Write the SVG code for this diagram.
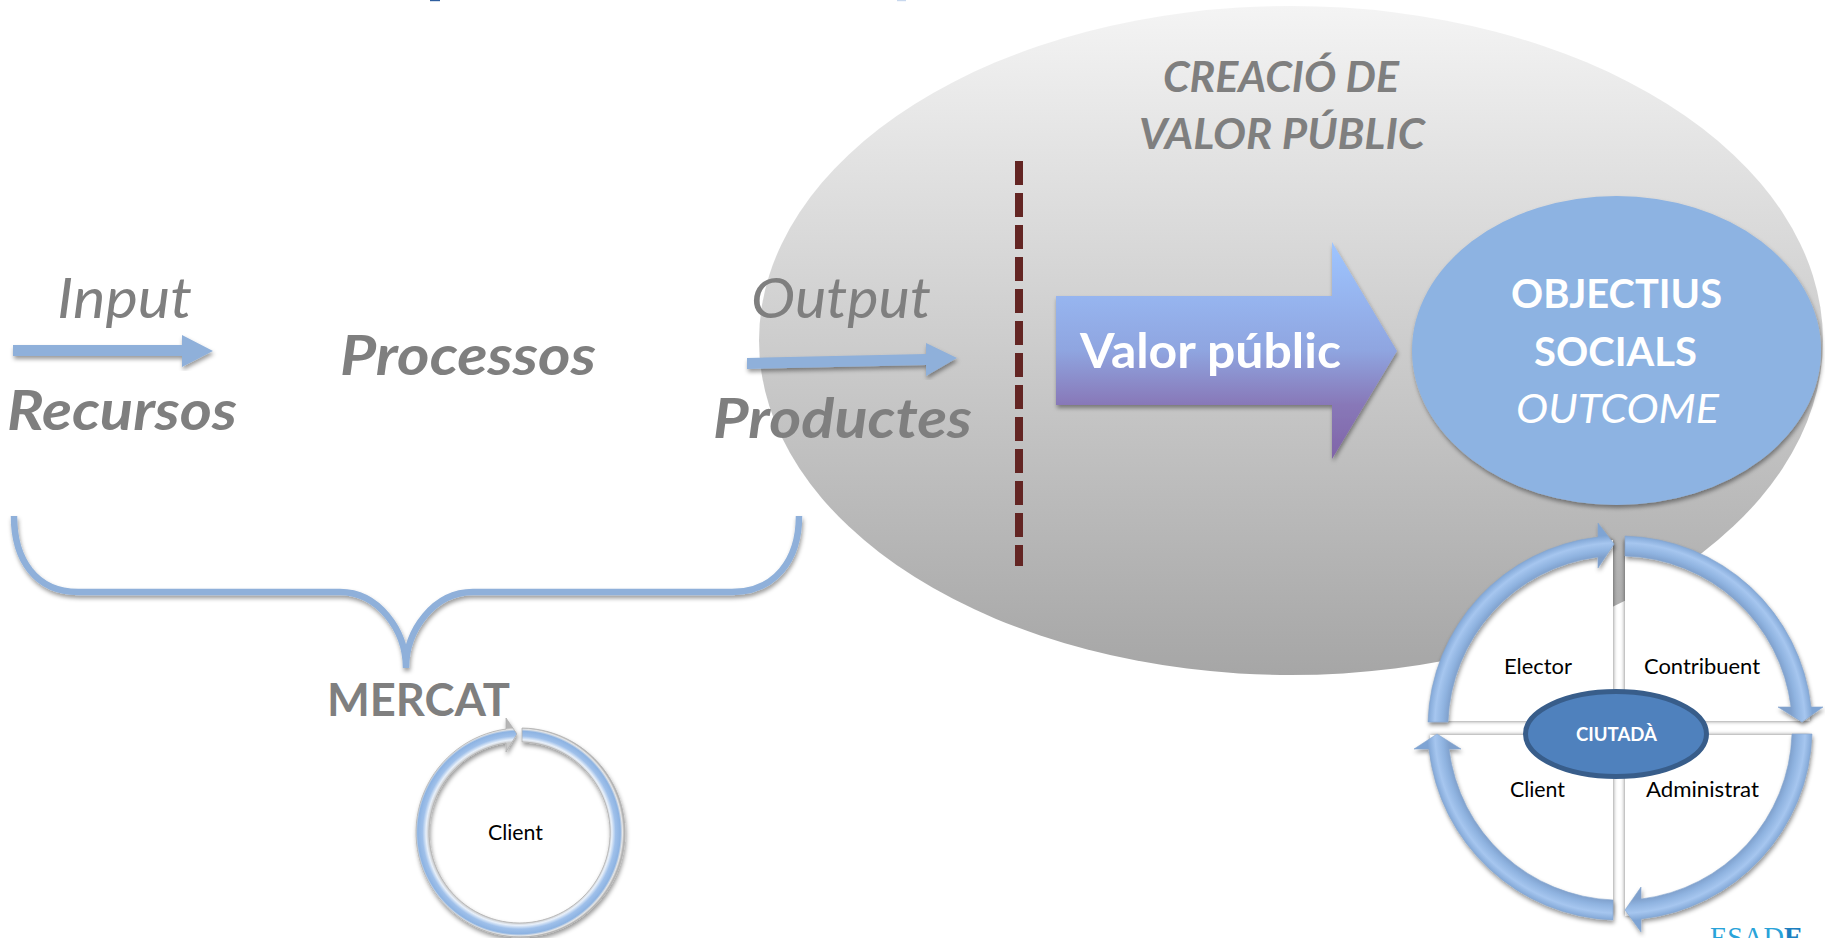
<svg xmlns="http://www.w3.org/2000/svg" width="1825" height="938" viewBox="0 0 1825 938">
<style>
text{font-family:Lato,"Liberation Sans",sans-serif;lengthAdjust:spacingAndGlyphs}
.g{fill:#7f7f7f}
.i{font-style:italic}
.b{font-weight:700}
.w{fill:#fff}
.k{fill:#000;font-size:21px}
.blue{fill:#8fb0da}
.ring{fill:url(#ringG);stroke:#86a6cf;stroke-width:.6;filter:url(#sh)}
.quad{fill:#fff;filter:url(#qs)}
.dash{fill:#632523}
</style>
<defs>
<linearGradient id="bigG" x1="0" y1="0" x2="0" y2="1"><stop offset="0" stop-color="#f4f4f4"/><stop offset="1" stop-color="#a6a6a6"/></linearGradient>
<linearGradient id="arrG" x1="0" y1="0" x2="0" y2="1"><stop offset="0" stop-color="#9ec5ff"/><stop offset=".5" stop-color="#8fa5e0"/><stop offset=".75" stop-color="#8878b8"/><stop offset="1" stop-color="#8064a8"/></linearGradient>
<radialGradient id="ringG" gradientUnits="userSpaceOnUse" cx="1620" cy="728" r="193"><stop offset=".89" stop-color="#7fa0cc"/><stop offset=".92" stop-color="#8fb3e0"/><stop offset=".96" stop-color="#a6c6ef"/><stop offset="1" stop-color="#7ea4d4"/></radialGradient>
<radialGradient id="smallG" gradientUnits="userSpaceOnUse" cx="519" cy="832.5" r="105"><stop offset=".86" stop-color="#c9c9c9"/><stop offset=".885" stop-color="#e8f0fa"/><stop offset=".92" stop-color="#9fc0ea"/><stop offset=".965" stop-color="#8db3e2"/><stop offset=".985" stop-color="#e6e6e6"/><stop offset="1" stop-color="#b5b5b5"/></radialGradient>
<filter id="sh" x="-10%" y="-10%" width="120%" height="120%"><feDropShadow dx="1" dy="3" stdDeviation="2" flood-color="#000" flood-opacity=".4"/></filter>
<filter id="qs" x="-5%" y="-5%" width="110%" height="110%"><feDropShadow dx="0" dy="0" stdDeviation="2" flood-color="#000" flood-opacity=".55"/></filter>
</defs>

<rect width="1825" height="938" fill="#fff"/>
<rect x="430" y="0" width="10" height="1.2" fill="#2f5f9f"/>
<rect x="897" y="0" width="9" height="1.2" fill="#c8d8ee"/>

<g id="valor-area">
<ellipse cx="1291" cy="340.5" rx="532" ry="334.5" fill="url(#bigG)"/>
<text class="g i b" x="1163" y="92" font-size="42" textLength="236" lengthAdjust="spacingAndGlyphs">CREACIÓ DE</text>
<text class="g i b" x="1139" y="149" font-size="42" textLength="286" lengthAdjust="spacingAndGlyphs">VALOR PÚBLIC</text>
</g>

<g id="recursos">
<text class="g i" x="57" y="318" font-size="56" textLength="135" lengthAdjust="spacingAndGlyphs">Input</text>
<text class="g i b" x="7" y="430" font-size="55" textLength="230" lengthAdjust="spacingAndGlyphs">Recursos</text>
</g>
<g id="processos">
<text class="g i b" x="340" y="375" font-size="55" textLength="256" lengthAdjust="spacingAndGlyphs">Processos</text>
</g>
<g id="productes">
<text class="g i" x="751" y="318" font-size="56" textLength="180" lengthAdjust="spacingAndGlyphs">Output</text>
<text class="g i b" x="713" y="438" font-size="55" textLength="259" lengthAdjust="spacingAndGlyphs">Productes</text>
</g>

<g id="connectors">
<path class="blue" filter="url(#sh)" d="M13,345H182V335L213,351L182,367V356H13Z"/>
<path class="blue" filter="url(#sh)" d="M747,358L926,354V343L957,358L926,376V365L747,369Z"/>
<path id="brace" fill="none" stroke="#8fb0da" stroke-width="6.5" filter="url(#sh)" stroke-linecap="butt" d="M14,516C14,560 36,592 78,592H340C378,592 406,630 406,668C406,630 434,592 473,592H732C775,592 799,560 799,516"/>
<g id="divider" class="dash">
<rect x="1015" y="161" width="8" height="24"/><rect x="1015" y="193" width="8" height="24"/><rect x="1015" y="225" width="8" height="24"/><rect x="1015" y="257" width="8" height="24"/><rect x="1015" y="289" width="8" height="24"/><rect x="1015" y="321" width="8" height="24"/><rect x="1015" y="353" width="8" height="24"/><rect x="1015" y="385" width="8" height="24"/><rect x="1015" y="417" width="8" height="24"/><rect x="1015" y="449" width="8" height="24"/><rect x="1015" y="481" width="8" height="24"/><rect x="1015" y="513" width="8" height="24"/><rect x="1015" y="545" width="8" height="21"/>
</g>
</g>

<g id="valor-public">
<path fill="url(#arrG)" filter="url(#sh)" d="M1056,296H1332V242L1397,351L1332,459V405H1056Z"/>
<text class="w b" x="1080" y="368" font-size="47" textLength="261" lengthAdjust="spacingAndGlyphs">Valor públic</text>
</g>

<g id="objectius">
<ellipse cx="1616.5" cy="350.5" rx="204.5" ry="154.5" fill="#8db3e2" filter="url(#sh)"/>
<text class="w b" x="1511" y="308" font-size="41" textLength="211" lengthAdjust="spacingAndGlyphs">OBJECTIUS</text>
<text class="w b" x="1534" y="366" font-size="41" textLength="163" lengthAdjust="spacingAndGlyphs">SOCIALS</text>
<text class="w i" x="1516" y="423" font-size="41" textLength="203" lengthAdjust="spacingAndGlyphs">OUTCOME</text>
</g>

<g id="mercat">
<text class="g b" x="327" y="716" font-size="46" textLength="183" lengthAdjust="spacingAndGlyphs">MERCAT</text>
</g>

<g id="client-cycle">
<path fill="url(#smallG)" stroke="#b0b0b0" stroke-width=".8" filter="url(#sh)" d="M522,728A104.5,104.5 0 1 1 506,729L506,718L517,734L506,752L506,743A90.5,90.5 0 1 0 522,742Z"/>
<text class="k" x="488" y="840" textLength="55" lengthAdjust="spacingAndGlyphs">Client</text>
</g>

<g id="ciutada-cycle">
<path class="quad" d="M1613,721L1430,721A190,190 0 0 1 1613,540Z"/>
<path class="quad" d="M1625,721V540A190,190 0 0 1 1810,721Z"/>
<path class="quad" d="M1625,735H1810A190,190 0 0 1 1625,916Z"/>
<path class="quad" d="M1613,735V916A190,190 0 0 1 1430,735Z"/>
<path class="ring" d="M1428,722A192,192 0 0 1 1598,537L1598,523L1614,544L1598,568L1598,557A172,172 0 0 0 1448,722Z"/>
<path class="ring" d="M1625,536A192,192 0 0 1 1811,707L1823,707L1802,722L1778,707L1791,707A172,172 0 0 0 1625,556Z"/>
<path class="ring" d="M1812,734A192,192 0 0 1 1641,919L1641,932L1625,910L1641,887L1641,899A172,172 0 0 0 1792,734Z"/>
<path class="ring" d="M1613,920A192,192 0 0 1 1429,749L1414,749L1437,734L1461,749L1449,749A172,172 0 0 0 1613,900Z"/>
<text class="k" x="1504" y="674" textLength="68" lengthAdjust="spacingAndGlyphs">Elector</text>
<text class="k" x="1644" y="674" textLength="116" lengthAdjust="spacingAndGlyphs">Contribuent</text>
<text class="k" x="1510" y="797" textLength="55" lengthAdjust="spacingAndGlyphs">Client</text>
<text class="k" x="1646" y="797" textLength="113" lengthAdjust="spacingAndGlyphs">Administrat</text>
</g>
<g id="ciutada">
<ellipse cx="1616" cy="734" rx="90.5" ry="42.5" fill="#4f81bd" stroke="#385d8a" stroke-width="5"/>
<text class="w b" x="1576" y="741" font-size="18.5" textLength="81" lengthAdjust="spacingAndGlyphs">CIUTADÀ</text>
</g>

<g id="logo">
<text x="1710" y="947" font-size="29" textLength="93" lengthAdjust="spacingAndGlyphs" style="font-family:'Liberation Serif',serif" fill="#29a3d9">ESAD<tspan font-weight="700" fill="#1c7fc0">E</tspan></text>
</g>
</svg>
